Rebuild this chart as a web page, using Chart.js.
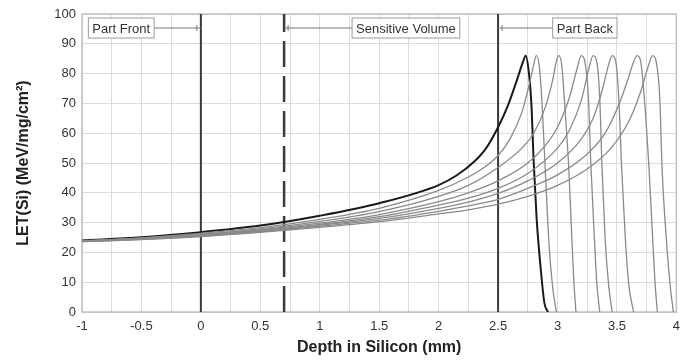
<!DOCTYPE html>
<html>
<head>
<meta charset="utf-8">
<script src="https://cdn.jsdelivr.net/npm/chart.js@4.4.1/dist/chart.umd.min.js"></script>
<style>
  body { margin: 0; background: #fff; }
  #wrap { width: 687px; height: 360px; }
</style>
</head>
<body>
<div id="wrap"><canvas id="let-chart" width="687" height="360"></canvas></div>
<script>
// --- Data (depth in mm, LET in MeV/mg/cm2) ---
const ion1Depth = [-1, -0.5, 0, 0.5, 1, 1.5, 2, 2.15, 2.3, 2.4, 2.5, 2.58, 2.66, 2.705, 2.733, 2.76, 2.78, 2.8, 2.825, 2.86, 2.89, 2.92];
const ion1Let = [24.0, 25.1, 26.8, 29.0, 32.3, 36.5, 42.6, 45.8, 50.5, 55, 62, 69, 78, 83.4, 86, 80, 70, 50, 31, 14, 3, 0];

const ion2Depth = [-1, -0.5, 0, 0.5, 1, 1.5, 2, 2.25, 2.4, 2.5, 2.6, 2.7, 2.76, 2.8, 2.82, 2.845, 2.87, 2.9, 2.93, 2.96, 2.99];
const ion2Let = [23.9, 24.9, 26.4, 28.3, 31.1, 34.8, 40.8, 45.3, 49, 52.5, 58, 67, 76, 83, 86, 83, 70, 45, 22, 8, 0];

const ion3Depth = [-1, -0.5, 0, 0.5, 1, 1.5, 2, 2.25, 2.5, 2.7, 2.8, 2.9, 2.96, 2.99, 3.01, 3.035, 3.06, 3.095, 3.115, 3.135, 3.155];
const ion3Let = [23.8, 24.8, 26.1, 27.9, 30.4, 33.7, 38.8, 42.5, 48.5, 55, 60, 69, 78, 84, 86, 83, 70, 48, 30, 12, 0];

const ion4Depth = [-1, -0.5, 0, 0.5, 1, 1.5, 2, 2.25, 2.5, 2.75, 2.9, 3.0, 3.1, 3.16, 3.2, 3.23, 3.26, 3.28, 3.31, 3.33, 3.355];
const ion4Let = [23.8, 24.7, 25.9, 27.6, 29.8, 32.7, 37.0, 40.0, 44.0, 50, 56, 62, 72, 81, 86, 84, 72, 50, 25, 10, 0];

const ion5Depth = [-1, -0.5, 0, 0.5, 1, 1.5, 2, 2.25, 2.5, 2.75, 3.0, 3.1, 3.2, 3.26, 3.3, 3.33, 3.355, 3.375, 3.4, 3.43, 3.46];
const ion5Let = [23.7, 24.6, 25.7, 27.3, 29.4, 32.0, 35.9, 38.2, 41.5, 46.5, 55, 61, 71, 81, 86, 84, 72, 48, 25, 9, 0];

const ion6Depth = [-1, -0.5, 0, 0.5, 1, 1.5, 2, 2.25, 2.5, 2.75, 3.0, 3.2, 3.3, 3.38, 3.43, 3.46, 3.49, 3.515, 3.54, 3.57, 3.6, 3.64];
const ion6Let = [23.7, 24.5, 25.6, 27.1, 29.1, 31.4, 34.8, 36.9, 39.8, 44, 50, 58, 65, 75, 83, 86, 84, 72, 48, 25, 9, 0];

const ion7Depth = [-1, -0.5, 0, 0.5, 1, 1.5, 2, 2.25, 2.5, 2.75, 3.0, 3.25, 3.4, 3.52, 3.6, 3.64, 3.67, 3.7, 3.73, 3.77, 3.8, 3.82, 3.84];
const ion7Let = [23.6, 24.4, 25.4, 26.9, 28.8, 30.8, 33.8, 35.6, 37.8, 41.5, 46, 53, 60, 70, 79, 84, 86, 84, 72, 48, 25, 10, 0];

const ion8Depth = [-1, -0.5, 0, 0.5, 1, 1.5, 2, 2.25, 2.5, 2.75, 3.0, 3.25, 3.45, 3.6, 3.7, 3.76, 3.8, 3.83, 3.86, 3.88, 3.92, 3.95, 3.975];
const ion8Let = [23.6, 24.3, 25.3, 26.7, 28.4, 30.3, 32.9, 34.3, 36.2, 38.8, 42.5, 48, 55, 64, 74, 82, 86, 84, 72, 48, 22, 8, 0];

// boundaries of the part and their labels
const boundaryDepths = [0, 0.7, 2.5];
const regionLabels = ['Part Front', 'Sensitive Volume', 'Part Back'];
const labelDepths = [-0.67, 1.725, 3.23];
const labelLet = 95.3;

const xTicks = { min: -1, max: 4, step: 0.25 };
const yTicks = { min: 0, max: 100, step: 10 };

function toPoints(xs, ys) {
  return xs.map((x, i) => ({ x: x, y: ys[i] }));
}

const grayCurves = [
  [ion2Depth, ion2Let], [ion3Depth, ion3Let], [ion4Depth, ion4Let], [ion5Depth, ion5Let],
  [ion6Depth, ion6Let], [ion7Depth, ion7Let], [ion8Depth, ion8Let]
];

const datasets = [];
grayCurves.forEach(c => {
  datasets.push({
    data: toPoints(c[0], c[1]),
    borderColor: '#8a8a8a',
    borderWidth: 1.3
  });
});
datasets.push({
  data: toPoints(ion1Depth, ion1Let),
  borderColor: '#1a1a1a',
  borderWidth: 2
});
boundaryDepths.forEach((d, i) => {
  datasets.push({
    data: [{ x: d, y: yTicks.min }, { x: d, y: yTicks.max }],
    borderColor: '#3a3a3a',
    borderWidth: i === 1 ? 2.5 : 2,
    borderDash: i === 1 ? [26, 9] : [],
    cubicInterpolationMode: 'default',
    tension: 0
  });
});

// --- frame around the plot area ---
const framePlugin = {
  id: 'frame',
  beforeDatasetsDraw(chart) {
    const a = chart.chartArea;
    const ctx = chart.ctx;
    ctx.save();
    ctx.strokeStyle = '#c0c0c0';
    ctx.lineWidth = 1.5;
    ctx.strokeRect(a.left, a.top, a.right - a.left, a.bottom - a.top);
    ctx.restore();
  }
};

// --- region labels with leader lines ---
const labelPlugin = {
  id: 'regionLabels',
  afterDatasetsDraw(chart) {
    const ctx = chart.ctx;
    const xs = chart.scales.x;
    const ys = chart.scales.y;
    ctx.save();
    ctx.font = '13px "Liberation Sans", Arial, sans-serif';
    ctx.textAlign = 'center';
    ctx.textBaseline = 'middle';
    regionLabels.forEach((txt, i) => {
      const cx = xs.getPixelForValue(labelDepths[i]);
      const cy = ys.getPixelForValue(labelLet);
      const bx = xs.getPixelForValue(boundaryDepths[i]);
      const w = ctx.measureText(txt).width + 8;
      const h = 20;
      // leader
      const edge = bx < cx ? cx - w / 2 : cx + w / 2;
      const tip = bx < cx ? bx + 4 : bx - 4;
      ctx.strokeStyle = '#777';
      ctx.lineWidth = 1;
      ctx.beginPath();
      ctx.moveTo(edge, cy);
      ctx.lineTo(bx, cy);
      ctx.moveTo(tip, cy - 3);
      ctx.lineTo(tip, cy + 3);
      ctx.stroke();
      // box
      ctx.fillStyle = '#fff';
      ctx.fillRect(cx - w / 2, cy - h / 2, w, h);
      ctx.strokeStyle = '#9a9a9a';
      ctx.strokeRect(cx - w / 2, cy - h / 2, w, h);
      ctx.fillStyle = '#333';
      ctx.fillText(txt, cx, cy + 1);
    });
    ctx.restore();
  }
};

const ctx = document.getElementById('let-chart').getContext('2d');
new Chart(ctx, {
  type: 'scatter',
  data: { datasets },
  options: {
    responsive: false,
    animation: false,
    showLine: true,
    layout: { padding: { top: 14, right: 6, left: 14, bottom: 3 } },
    elements: {
      point: { radius: 0 },
      line: { cubicInterpolationMode: 'monotone', fill: false }
    },
    plugins: {
      legend: { display: false },
      tooltip: { enabled: false }
    },
    scales: {
      x: {
        type: 'linear',
        min: xTicks.min,
        max: xTicks.max,
        afterFit: s => { s.height = 45; },
        afterBuildTicks: s => {
          s.ticks = [];
          for (let v = xTicks.min; v <= xTicks.max + 1e-9; v += xTicks.step) s.ticks.push({ value: Math.round(v * 100) / 100 });
        },
        ticks: {
          autoSkip: false,
          maxRotation: 0,
          color: '#333',
          font: { family: '"Liberation Sans", Arial', size: 13 },
          padding: 7,
          callback: v => (Math.round(v * 4) % 2 === 0 ? String(v) : '')
        },
        grid: { color: '#dcdcdc', drawTicks: false },
        border: { display: false },
        title: {
          display: true,
          text: 'Depth in Silicon (mm)',
          color: '#222',
          font: { family: '"Liberation Sans", Arial', size: 16, weight: 'bold' },
          padding: { top: 2, bottom: 0 }
        }
      },
      y: {
        min: yTicks.min,
        max: yTicks.max,
        afterFit: s => { s.width = 68; },
        ticks: {
          stepSize: yTicks.step,
          color: '#333',
          font: { family: '"Liberation Sans", Arial', size: 13 },
          padding: 6
        },
        grid: { color: '#dcdcdc', drawTicks: false },
        border: { display: false },
        title: {
          display: true,
          text: 'LET(Si) (MeV/mg/cm²)',
          color: '#222',
          font: { family: '"Liberation Sans", Arial', size: 16, weight: 'bold' },
          padding: { top: 0, bottom: 4 }
        }
      }
    }
  },
  plugins: [framePlugin, labelPlugin]
});
</script>
</body>
</html>
